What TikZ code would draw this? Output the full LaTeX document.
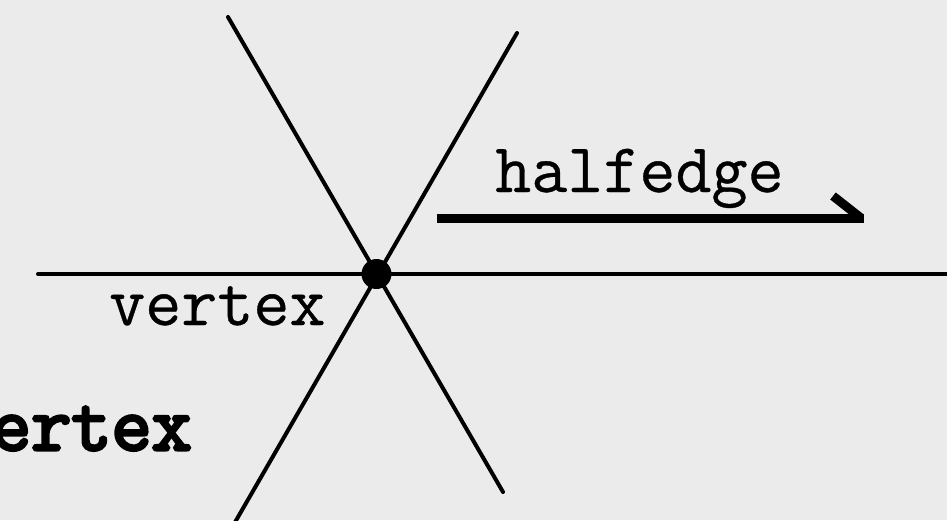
\documentclass[tikz,border=0pt]{standalone}
\usepackage{fontspec}
\newfontfamily\heavytt{Latin Modern Mono}[FakeBold=4]
\newfontfamily\plaintt{Latin Modern Mono}[FakeBold=0.5]
\definecolor{bg}{HTML}{EBEBEB}
\begin{document}
\begin{tikzpicture}[x=1pt,y=-1pt,
  edge/.style={line width=4pt,line cap=round},
  label/.style={inner sep=0pt,font=\fontsize{70}{70}\selectfont\plaintt},
  biglabel/.style={inner sep=0pt,font=\fontsize{78}{78}\selectfont\heavytt},
  half/.style={line width=9pt}]
\fill[bg] (0,0) rectangle (947,520);
\useasboundingbox (0,0) rectangle (947,520);
\coordinate (v) at (376.5,274);
\coordinate (h0) at (38,274);
\coordinate (h1) at (950,274);
\coordinate (a0) at (228,17);
\coordinate (a1) at (503,492);
\coordinate (b0) at (517,33);
\coordinate (b1) at (234,524);
\draw[edge] (h0) -- (h1);
\draw[edge] (a0) -- (a1);
\draw[edge] (b0) -- (b1);
\fill (v) circle (15);
\coordinate (e0) at (437,218);
\coordinate (e1) at (864,218);
\coordinate (e2) at (861,218);
\coordinate (tip) at (833,196);
\draw[half] (e0) -- (e1);
\draw[half] (e2) -- (tip);
\node[label,anchor=base west] (he) at (495,192) {halfedge};
\node[label,anchor=base west] (vl) at (109,325) {vertex};
\node[biglabel,anchor=base east] (vb) at (192,450) {vertex};
\end{tikzpicture}
\end{document}
